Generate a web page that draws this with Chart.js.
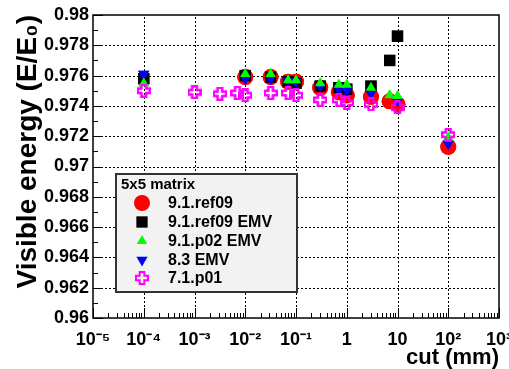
<!DOCTYPE html>
<html><head><meta charset="utf-8">
<script src="https://cdn.jsdelivr.net/npm/chart.js@4.4.0/dist/chart.umd.min.js"></script>
<style>html,body{margin:0;padding:0;background:#fff;}#wrap{width:509px;height:369px;}</style>
</head><body><div id="wrap"><canvas id="c" width="509" height="369"></canvas></div>
<script>
// ---- data ----
const legendTitle = '5x5 matrix';
const seriesNames = ['9.1.ref09', '9.1.ref09 EMV', '9.1.p02 EMV', '8.3 EMV', '7.1.p01'];

const cutRef09 = [0.01, 0.0316, 0.07, 0.1, 0.3, 0.7, 1, 3, 7, 10, 100];
const valRef09 = [0.9759, 0.9759, 0.9756, 0.9756, 0.9752, 0.9749, 0.9747, 0.9746, 0.9743, 0.9741, 0.9713];

const cutRef09EMV = [0.0001, 0.01, 0.0316, 0.07, 0.1, 0.3, 0.7, 1, 3, 7, 10];
const valRef09EMV = [0.9758, 0.9760, 0.9759, 0.9756, 0.9755, 0.9753, 0.9752, 0.9751, 0.9753, 0.9770, 0.9786];

const cutP02EMV = [0.0001, 0.01, 0.0316, 0.07, 0.1, 0.3, 0.7, 1, 3, 7, 10, 100];
const valP02EMV = [0.9755, 0.9761, 0.9761, 0.9757, 0.9757, 0.9755, 0.9754, 0.9754, 0.9752, 0.9747, 0.97465, 0.9719];

const cut83EMV = [0.0001, 0.01, 0.0316, 0.07, 0.1, 0.3, 0.7, 1, 3, 10, 100];
const val83EMV = [0.9761, 0.9758, 0.9758, 0.97565, 0.9756, 0.9753, 0.9751, 0.9750, 0.9748, 0.9743, 0.9715];

const cut71p01 = [0.0001, 0.001, 0.00316, 0.007, 0.01, 0.0316, 0.07, 0.1, 0.3, 0.7, 1, 3, 10, 100];
const val71p01 = [0.9750, 0.9749, 0.9748, 0.97485, 0.9747, 0.97485, 0.97485, 0.9747, 0.9744, 0.9744, 0.9742, 0.9741, 0.9739, 0.9721];

const xTickValues = [1e-5, 1e-4, 1e-3, 1e-2, 1e-1, 1, 10, 100, 1000];
const xTickLabels = ['10\u207B\u2075', '10\u207B\u2074', '10\u207B\u00B3', '10\u207B\u00B2', '10\u207B\u00B9', '1', '10', '10\u00B2', '10\u00B3'];
const yTickLabels = ['0.96', '0.962', '0.964', '0.966', '0.968', '0.97', '0.972', '0.974', '0.976', '0.978', '0.98'];

// ---- helpers ----
const FONT = '"Liberation Sans", Arial, Helvetica, sans-serif';
function pts(xs, ys) { return xs.map((x, i) => ({ x: x, y: ys[i] })); }
function openCross(size, color) {
  const c = document.createElement('canvas'); c.width = size; c.height = size;
  const g = c.getContext('2d');
  const a = size / 3;
  g.strokeStyle = color; g.lineWidth = 2;
  const p0 = 1, p1 = (size - a) / 2, p2 = (size + a) / 2, p3 = size - 1;
  g.beginPath();
  g.moveTo(p1, p0); g.lineTo(p2, p0); g.lineTo(p2, p1); g.lineTo(p3, p1); g.lineTo(p3, p2);
  g.lineTo(p2, p2); g.lineTo(p2, p3); g.lineTo(p1, p3); g.lineTo(p1, p2); g.lineTo(p0, p2);
  g.lineTo(p0, p1); g.lineTo(p1, p1); g.closePath(); g.stroke();
  return c;
}
const crossImg = openCross(14, '#ff00ff');

const datasets = [
  { label: seriesNames[0], data: pts(cutRef09, valRef09), pointStyle: 'circle', pointRadius: 8, backgroundColor: '#ff0000', borderColor: '#ff0000', borderWidth: 0, order: 5 },
  { label: seriesNames[1], data: pts(cutRef09EMV, valRef09EMV), pointStyle: 'rect', pointRadius: 8, backgroundColor: '#000000', borderColor: '#000000', borderWidth: 0, order: 4 },
  { label: seriesNames[2], data: pts(cutP02EMV, valP02EMV), pointStyle: 'triangle', pointRadius: 6, backgroundColor: '#00ff00', borderColor: '#00ff00', borderWidth: 0, order: 2 },
  { label: seriesNames[3], data: pts(cut83EMV, val83EMV), pointStyle: 'triangle', pointRotation: 180, pointRadius: 6.5, backgroundColor: '#0000ff', borderColor: '#0000ff', borderWidth: 0, order: 3 },
  { label: seriesNames[4], data: pts(cut71p01, val71p01), pointStyle: crossImg, pointRadius: 7, backgroundColor: '#ff00ff', borderColor: '#ff00ff', borderWidth: 0, order: 1 }
];

// grid (short stroked segments), markers above it, inner ticks, frame and legend box
const overlayPlugin = {
  id: 'rootStyle',
  afterDraw(chart) {
    const ctx = chart.ctx, a = chart.chartArea, xs = chart.scales.x, ys = chart.scales.y;

    ctx.save();
    ctx.strokeStyle = '#000'; ctx.lineWidth = 1;
    ctx.beginPath();
    for (let i = 0; i < yTickLabels.length; i++) {
      const y = Math.round(ys.getPixelForValue(Number(yTickLabels[i]))) + 0.5;
      if (y > a.top + 2 && y < a.bottom - 2) {
        for (let x = Math.round(a.left) + 12; x < a.right - 2; x += 4) { ctx.moveTo(x, y); ctx.lineTo(x + 2, y); }
      }
    }
    for (let i = 0; i < xTickValues.length; i++) {
      const x = Math.round(xs.getPixelForValue(xTickValues[i])) + 0.5;
      if (x > a.left + 2 && x < a.right - 2) {
        for (let y = Math.round(a.top) + 2; y < a.bottom - 12; y += 4) { ctx.moveTo(x, y); ctx.lineTo(x, y + 2); }
      }
    }
    ctx.stroke();
    ctx.restore();

    const metas = chart.getSortedVisibleDatasetMetas();
    for (let i = metas.length - 1; i >= 0; --i) {
      metas[i].data.forEach(el => el.draw(ctx, a));
    }

    ctx.save();
    ctx.strokeStyle = '#000'; ctx.lineWidth = 1;
    ctx.beginPath();
    for (let k = 0; k <= 20; k++) {
      const y = Math.round(ys.getPixelForValue(0.96 + k * 0.001)) + 0.5;
      ctx.moveTo(a.left, y); ctx.lineTo(a.left + (k % 2 === 0 ? 10 : 5), y);
    }
    for (let e = -5; e <= 3; e++) {
      for (let m = 1; m <= 9; m++) {
        const v = m * Math.pow(10, e);
        if (v > 1000) break;
        const x = Math.round(xs.getPixelForValue(v)) + 0.5;
        ctx.moveTo(x, a.bottom); ctx.lineTo(x, a.bottom - (m === 1 ? 10 : 5));
      }
    }
    ctx.stroke();
    ctx.lineWidth = 1.5;
    ctx.strokeRect(a.left, a.top, a.right - a.left, a.bottom - a.top);
    ctx.restore();

    // legend
    const bx = 116, by = 174, bw = 181, bh = 118;
    ctx.save();
    ctx.fillStyle = '#f2f2f2';
    ctx.fillRect(bx, by, bw, bh);
    ctx.strokeStyle = '#333'; ctx.lineWidth = 2;
    ctx.strokeRect(bx, by, bw, bh);
    ctx.fillStyle = '#000';
    ctx.textBaseline = 'middle'; ctx.textAlign = 'left';
    ctx.font = 'bold 15px ' + FONT;
    ctx.fillText(legendTitle, 121, 185);
    const rowY = [203, 222, 241, 260, 278];
    chart.data.datasets.forEach((ds, i) => {
      ctx.fillStyle = ds.backgroundColor; ctx.strokeStyle = ds.borderColor;
      Chart.helpers.drawPoint(ctx, { pointStyle: ds.pointStyle, rotation: ds.pointRotation || 0, radius: ds.pointRadius, borderWidth: 0 }, 142, rowY[i]);
      ctx.fillStyle = '#000';
      ctx.font = 'bold 16px ' + FONT;
      ctx.fillText(ds.label, 168, rowY[i] + 1);
    });
    ctx.restore();
  }
};

new Chart(document.getElementById('c'), {
  type: 'scatter',
  data: { datasets: datasets },
  options: {
    responsive: false,
    animation: false,
    layout: { padding: { left: 0, right: 10, top: 15, bottom: 0 } },
    plugins: { legend: { display: false }, tooltip: { enabled: false } },
    scales: {
      x: {
        type: 'logarithmic', min: 1e-5, max: 1000,
        afterBuildTicks: (s) => { s.ticks = xTickValues.map(v => ({ value: v })); },
        afterFit: (s) => { s.height = 51; s.paddingLeft = 0; s.paddingRight = 0; },
        ticks: {
          autoSkip: false, maxRotation: 0, padding: 11, color: '#000',
          font: { family: FONT, size: 18, weight: 'bold' },
          callback: (v) => { const i = xTickValues.findIndex(t => Math.abs(Math.log10(t) - Math.log10(v)) < 1e-6); return i >= 0 ? xTickLabels[i] : ''; }
        },
        grid: { display: false, drawTicks: false },
        border: { display: false },
        title: { display: true, text: 'cut (mm)', align: 'end', color: '#000', padding: 0, font: { family: FONT, size: 22, weight: 'bold', lineHeight: 1 } }
      },
      y: {
        type: 'linear', min: 0.96, max: 0.98,
        afterBuildTicks: (s) => { s.ticks = yTickLabels.map(t => ({ value: parseFloat(t) })); },
        afterFit: (s) => { s.width = 93; s.paddingTop = 0; s.paddingBottom = 0; },
        ticks: {
          padding: 4, color: '#000',
          font: { family: FONT, size: 18, weight: 'bold' },
          callback: (v) => { const i = yTickLabels.findIndex(t => Math.abs(parseFloat(t) - v) < 1e-7); return i >= 0 ? yTickLabels[i] : ''; }
        },
        grid: { display: false, drawTicks: false },
        border: { display: false },
        title: { display: true, text: 'Visible energy (E/E\u2080)', align: 'end', color: '#000', padding: { top: 14, bottom: 0 }, font: { family: FONT, size: 28, weight: 'bold', lineHeight: 1 } }
      }
    }
  },
  plugins: [overlayPlugin]
});
</script>
</body></html>
